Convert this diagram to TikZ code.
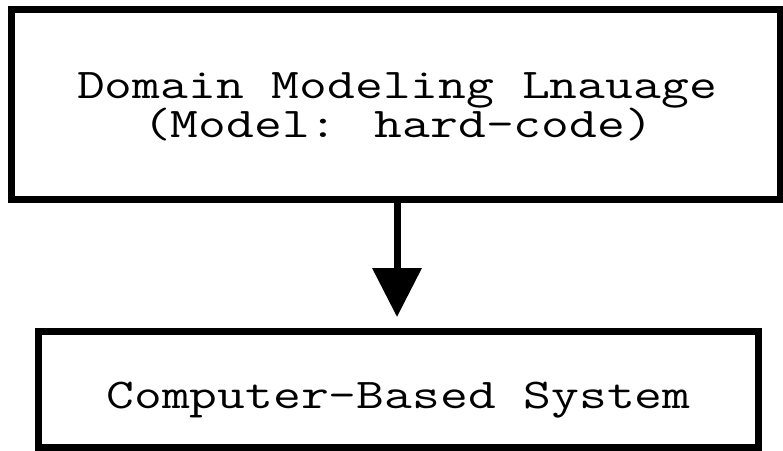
\documentclass[tikz,border=0pt]{standalone}
\usepackage{graphicx}
\usetikzlibrary{arrows.meta}

% typewriter face, squeezed vertically to the proportions of a Courier-like face
\newcommand{\boxline}[1]{\scalebox{1}[0.785]{#1}}

\tikzset{
  blockbox/.style={draw=black, line width=7pt, fill=white, inner sep=0pt, outer sep=0pt},
  boxtext/.style={font=\ttfamily\fontsize{54}{40}\selectfont, inner sep=0pt, anchor=base, text=black},
  flowarrow/.style={line width=7pt, -{Triangle[width=48pt,length=49pt]}}
}

\begin{document}
\begin{tikzpicture}[x=1pt, y=-1pt]
  \useasboundingbox (0,0) rectangle (783,450);

  % upper block: the modelling language
  \node[blockbox, minimum width=768.5pt, minimum height=189.5pt] (dml) at (395.75,104.25) {};
  \node[boxtext] (dmlone) at (397,98) {\boxline{Domain Modeling Lnauage}};
  \node[boxtext] (dmltwo) at (398,137) {\boxline{(Model: hard-code)}};

  % lower block: the target system
  \node[blockbox, minimum width=719.5pt, minimum height=116pt] (cbs) at (398.25,389) {};
  \node[boxtext] (cbsline) at (398.5,408) {\boxline{Computer-Based System}};

  % connector between the two blocks
  \coordinate (axis) at (397,0);
  \draw[flowarrow, shorten >=14pt] (dml.south -| axis) -- (cbs.north -| axis);
\end{tikzpicture}
\end{document}
